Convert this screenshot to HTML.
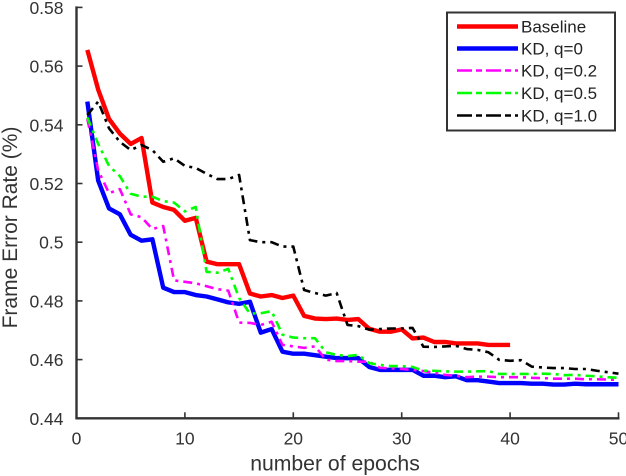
<!DOCTYPE html>
<html>
<head>
<meta charset="utf-8">
<style>
html,body{margin:0;padding:0;background:#fff;width:626px;height:476px;overflow:hidden}
svg{display:block;font-family:"Liberation Sans",sans-serif}
</style>
</head>
<body>
<svg id="chart" width="626" height="476" viewBox="0 0 626 476" xmlns="http://www.w3.org/2000/svg">
<rect x="0" y="0" width="626" height="476" fill="#fff"/>
<g id="series"></g>
<g id="axes"></g>
<text x="335" y="470.5" font-size="21.2" fill="#333" text-anchor="middle">number of epochs</text>
<text transform="translate(17,227.5) rotate(-90)" font-size="21" fill="#333" text-anchor="middle">Frame Error Rate (%)</text>
<g id="legend"></g>
</svg>
<script>
const xTicks = [0, 10, 20, 30, 40, 50];
const xTickLabels = ["0", "10", "20", "30", "40", "50"];
const yTicks = [0.44, 0.46, 0.48, 0.5, 0.52, 0.54, 0.56, 0.58];
const yTickLabels = ["0.44", "0.46", "0.48", "0.5", "0.52", "0.54", "0.56", "0.58"];

const epochs = [1,2,3,4,5,6,7,8,9,10,11,12,13,14,15,16,17,18,19,20,21,22,23,24,25,26,27,28,29,30,31,32,33,34,35,36,37,38,39,40,41,42,43,44,45,46,47,48,49,50];

const baseline = [0.5655,0.552,0.542,0.537,0.5335,0.5355,0.5135,0.512,0.511,0.5073,0.5083,0.4934,0.4925,0.4925,0.4925,0.4825,0.4815,0.482,0.481,0.4818,0.4749,0.474,0.4738,0.474,0.4735,0.4738,0.4705,0.4695,0.4695,0.4703,0.4672,0.4675,0.466,0.466,0.4655,0.4655,0.4655,0.465,0.465,0.465];
const kdQ0 = [0.5479,0.521,0.5115,0.5095,0.5025,0.5005,0.501,0.4845,0.483,0.483,0.482,0.4815,0.4805,0.4795,0.479,0.4797,0.4692,0.4704,0.4627,0.462,0.462,0.4615,0.461,0.4605,0.4605,0.4605,0.4575,0.4565,0.4565,0.4565,0.4565,0.4545,0.4545,0.454,0.4543,0.453,0.453,0.4525,0.452,0.452,0.452,0.4518,0.4518,0.4515,0.4515,0.4518,0.4516,0.4516,0.4516,0.4516];
const kdQ02 = [0.542,0.5245,0.5167,0.5181,0.5095,0.5085,0.5045,0.5055,0.487,0.4865,0.486,0.485,0.484,0.4835,0.4726,0.4725,0.4718,0.4729,0.465,0.4645,0.464,0.4645,0.46,0.4595,0.4595,0.4593,0.4593,0.4572,0.457,0.4568,0.4565,0.4561,0.4555,0.4548,0.4545,0.454,0.4542,0.4542,0.454,0.454,0.454,0.4538,0.4537,0.4535,0.4535,0.4535,0.4533,0.4533,0.4532,0.4531];
const kdQ05 = [0.5425,0.5335,0.526,0.5225,0.5165,0.5155,0.5155,0.514,0.5135,0.5105,0.512,0.4899,0.4896,0.4909,0.481,0.4757,0.4758,0.4765,0.4685,0.4675,0.4673,0.4673,0.4625,0.4616,0.4612,0.4616,0.4588,0.4582,0.4578,0.4578,0.4575,0.4562,0.4562,0.456,0.4559,0.4559,0.456,0.4561,0.4551,0.4551,0.4551,0.4551,0.4552,0.4551,0.4547,0.4548,0.4545,0.4543,0.454,0.4538];
const kdQ10 = [0.5433,0.5479,0.5388,0.5342,0.5314,0.5331,0.5314,0.5274,0.5286,0.526,0.5253,0.5233,0.5215,0.5215,0.5229,0.5007,0.5,0.5,0.4985,0.4985,0.4837,0.4827,0.4818,0.4827,0.4718,0.4714,0.4702,0.4704,0.4706,0.4706,0.4708,0.4644,0.4643,0.4645,0.4647,0.4636,0.4633,0.4625,0.4599,0.4596,0.4598,0.4576,0.4573,0.4571,0.4571,0.4568,0.4568,0.4562,0.4557,0.4552];

const seriesNames = ["Baseline", "KD, q=0", "KD, q=0.2", "KD, q=0.5", "KD, q=1.0"];

const SVGNS = "http://www.w3.org/2000/svg";
const xScale = v => 76.5 + v * 10.84;
const yScale = v => 418.3 - (v - 0.44) * 2935;

const seriesValues = [baseline, kdQ0, kdQ02, kdQ05, kdQ10];
const seriesColors = ["#ff0000", "#0000ff", "#ff00ff", "#00ff00", "#000000"];
const seriesWidths = [4.4, 4.4, 2.6, 2.6, 2.6];
const seriesDash = ["", "", "9 5 3 5", "9 5 3 5", "9 5 3 5"];
const seriesIds = ["baseline", "kd-q0", "kd-q02", "kd-q05", "kd-q10"];
const legendDash = ["", "", "15 4 6 4", "15 4 6 4", "15 4 6 4"];

const seriesGroup = document.getElementById("series");
seriesValues.forEach(function (vals, i) {
  const pts = vals.map((v, k) => xScale(epochs[k]).toFixed(2) + "," + yScale(v).toFixed(2)).join(" ");
  const line = document.createElementNS(SVGNS, "polyline");
  line.setAttribute("points", pts);
  line.setAttribute("fill", "none");
  line.setAttribute("stroke", seriesColors[i]);
  line.setAttribute("stroke-width", seriesWidths[i]);
  line.setAttribute("stroke-linejoin", "round");
  if (seriesDash[i]) line.setAttribute("stroke-dasharray", seriesDash[i]);
  
  
  line.setAttribute("id", "line-" + seriesIds[i]);
  seriesGroup.appendChild(line);
});

const axes = document.getElementById("axes");
function axisLine(x1, y1, x2, y2, w) {
  const l = document.createElementNS(SVGNS, "line");
  l.setAttribute("x1", x1);
  l.setAttribute("y1", y1);
  l.setAttribute("x2", x2);
  l.setAttribute("y2", y2);
  l.setAttribute("stroke", "#333");
  l.setAttribute("stroke-width", w);
  axes.appendChild(l);
  return l;
}
function axisText(x, y, s, anchor) {
  const t = document.createElementNS(SVGNS, "text");
  t.setAttribute("x", x);
  t.setAttribute("y", y);
  t.setAttribute("font-size", "17.5");
  t.setAttribute("fill", "#333");
  t.setAttribute("text-anchor", anchor);
  t.textContent = s;
  axes.appendChild(t);
  return t;
}
const yAxisLine = axisLine(xScale(0), yScale(0.58) - 1, xScale(0), yScale(0.44) + 1, 2.4);


const xAxisLine = axisLine(xScale(0) - 1, yScale(0.44), xScale(50) + 1, yScale(0.44), 2.4);



xTicks.forEach(function (v, i) {
  const tick = axisLine(xScale(v), yScale(0.44), xScale(v), yScale(0.44) - 6, 1.6);
  
  
  const label = axisText(xScale(v), 444.5, xTickLabels[i], "middle");
  
  
});
yTicks.forEach(function (v, i) {
  const tick = axisLine(xScale(0), yScale(v), xScale(0) + 6, yScale(v), 1.6);
  
  
  const label = axisText(63.5, yScale(v) + 6.5, yTickLabels[i], "end");
  
  
});

const legend = document.getElementById("legend");
const legendBox = document.createElementNS(SVGNS, "rect");
legendBox.setAttribute("x", 447);
legendBox.setAttribute("y", 12.5);
legendBox.setAttribute("width", 168);
legendBox.setAttribute("height", 118);
legendBox.setAttribute("fill", "#fff");
legendBox.setAttribute("stroke", "#333");
legendBox.setAttribute("stroke-width", 2);


legend.appendChild(legendBox);

const legendRows = [26.5, 48.5, 70.5, 93, 115.5];
seriesNames.forEach(function (name, i) {
  const sw = document.createElementNS(SVGNS, "line");
  sw.setAttribute("x1", 457);
  sw.setAttribute("x2", 518);
  sw.setAttribute("y1", legendRows[i]);
  sw.setAttribute("y2", legendRows[i]);
  sw.setAttribute("stroke", seriesColors[i]);
  sw.setAttribute("stroke-width", seriesWidths[i]);
  if (legendDash[i]) sw.setAttribute("stroke-dasharray", legendDash[i]);
  
  
  legend.appendChild(sw);
  const t = document.createElementNS(SVGNS, "text");
  t.setAttribute("x", 521);
  t.setAttribute("y", legendRows[i] + 6);
  t.setAttribute("font-size", "17");
  t.setAttribute("fill", "#222");
  t.textContent = name;
  
  
  legend.appendChild(t);
});
</script>
</body>
</html>
